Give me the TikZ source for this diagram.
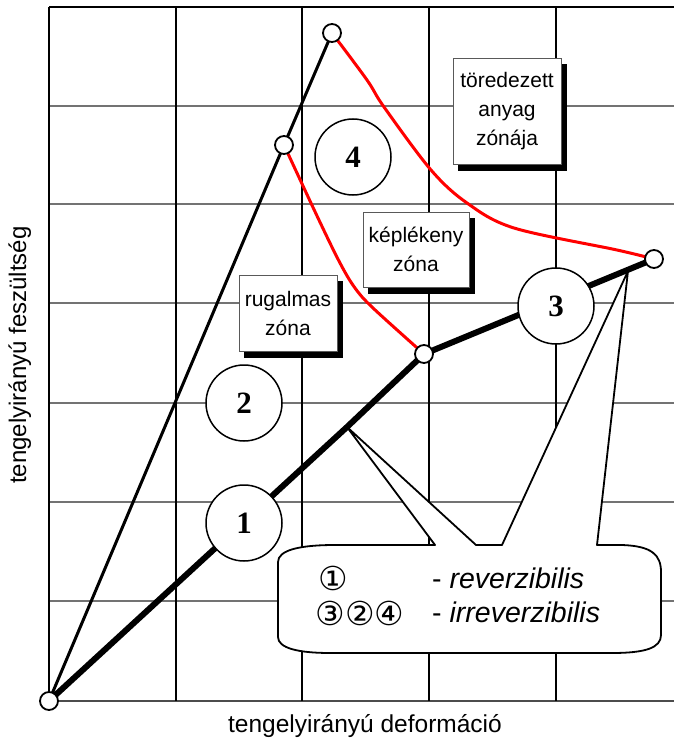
\documentclass[tikz,border=0pt]{standalone}
\usepackage{fontspec}
\setmainfont{Liberation Sans}
\newfontfamily\numfont{Liberation Serif}
\newfontfamily\circfont{DejaVu Sans}

\begin{document}
\begin{tikzpicture}[x=1bp,y=-1bp,
  hgrid/.style={line width=1.6bp, draw=black!55},
  vgrid/.style={line width=1.2bp, draw=black},
  dot/.style={circle, draw, fill=white, line width=1.8bp, minimum size=18bp, inner sep=0pt},
  numc/.style={circle, draw, fill=white, line width=1.5bp, minimum size=76bp, inner sep=0pt,
    font=\numfont\bfseries\fontsize{31bp}{31bp}\selectfont},
  zonebox/.style={rectangle, draw=black!65, line width=0.9bp, fill=white, align=center, inner sep=0pt,
    font=\fontsize{21bp}{29bp}\selectfont},
  axislbl/.style={inner sep=0pt, font=\fontsize{24.5bp}{28bp}\selectfont},
  keytext/.style={inner sep=0pt, font=\fontsize{28.5bp}{32bp}\selectfont},
  keydigit/.style={inner sep=0pt, font=\circfont\fontsize{33bp}{33bp}\selectfont},
  thinline/.style={line width=3bp, line join=round},
  thickline/.style={line width=6bp, line join=round},
  redcurve/.style={draw=red, line width=3bp, line join=round}
]
\useasboundingbox (0,0) rectangle (674,741);

% grid
\foreach \y in {106,204,303,403,502,601}
  \draw[hgrid] (49,\y) -- (674,\y);
\draw[hgrid, draw=black!70] (49,701) -- (674,701);
\foreach \x in {176,302,429,556}
  \draw[vgrid] (\x,7) -- (\x,701);
\draw[line width=1.6bp] (49,7) -- (674,7);
\draw[vgrid] (49,7) -- (49,701);

% key points of the curves
\coordinate (O)   at (49,701);
\coordinate (mid) at (284,145);
\coordinate (top) at (332,33);
\coordinate (K)   at (347,427);
\coordinate (n1)  at (424,354);
\coordinate (nR)  at (654,259);
\coordinate (A)   at (628,271);

% zone borders
\draw[redcurve] plot[smooth, tension=0.55] coordinates
  {(top) (367,80) (384,107) (431,170) (467,203) (514,228) (617,250) (nR)};
\draw[redcurve] plot[smooth, tension=0.55] coordinates
  {(mid) (318,218) (340,263) (355,288) (373,308) (n1)};

% callout with two pointers
\draw[line width=1.8bp, fill=white, line join=round]
  (278,562) .. controls (278,550) and (300,545) .. (335,545)
  -- (435,545) -- (K) -- (476,545) -- (502,545) -- (A) -- (597,545)
  -- (622,545) .. controls (652,546) and (661,555) .. (661,572)
  -- (661,635) .. controls (661,648) and (645,653) .. (612,653)
  -- (330,653) .. controls (298,653) and (278,648) .. (278,637) -- cycle;

% loading lines
\draw[thinline] (O) -- (mid) -- (top);
\draw[thickline] (O) -- (K) -- (n1) -- (nR);

% numbered regions
\node[numc] (c1) at (244,523) {1};
\node[numc] (c2) at (244,403) {2};
\node[numc] (c3) at (556,306) {3};
\node[numc] (c4) at (353,157) {4};

% solid shadows of the zone labels
\fill[black] (244,281) rectangle (343,358);
\fill[black] (368,218) rectangle (475,294);
\fill[black] (458,64) rectangle (567,171);

% zone labels
\node[zonebox, minimum width=98bp, minimum height=76bp] (rug) at (288,313) {rugalmas\\zóna};
\node[zonebox, minimum width=106bp, minimum height=75bp] (kep) at (416,249.5) {képlékeny\\zóna};
\node[zonebox, minimum width=108bp, minimum height=106bp] (tor) at (507,111) {töredezett\\anyag\\zónája};

% points
\node[dot] (dO) at (O) {};
\node[dot] (dmid) at (mid) {};
\node[dot] (dtop) at (top) {};
\node[dot] (dn1) at (n1) {};
\node[dot] (dnR) at (nR) {};

% key
\node[keydigit] (k1) at (333,578) {①};
\node[keydigit] (k2) at (360,613) {③②④};
\node[keytext, anchor=base west] (t1) at (432,588) {- \textit{reverzibilis}};
\node[keytext, anchor=base west] (t2) at (432,622) {- \textit{irreverzibilis}};

% axis titles
\node[axislbl, anchor=base] (xl) at (365,732) {tengelyirányú deformáció};
\node[axislbl, anchor=base, rotate=90, font=\fontsize{24bp}{28bp}\selectfont] (yl) at (26,355) {tengelyirányú feszültség};
\end{tikzpicture}
\end{document}
